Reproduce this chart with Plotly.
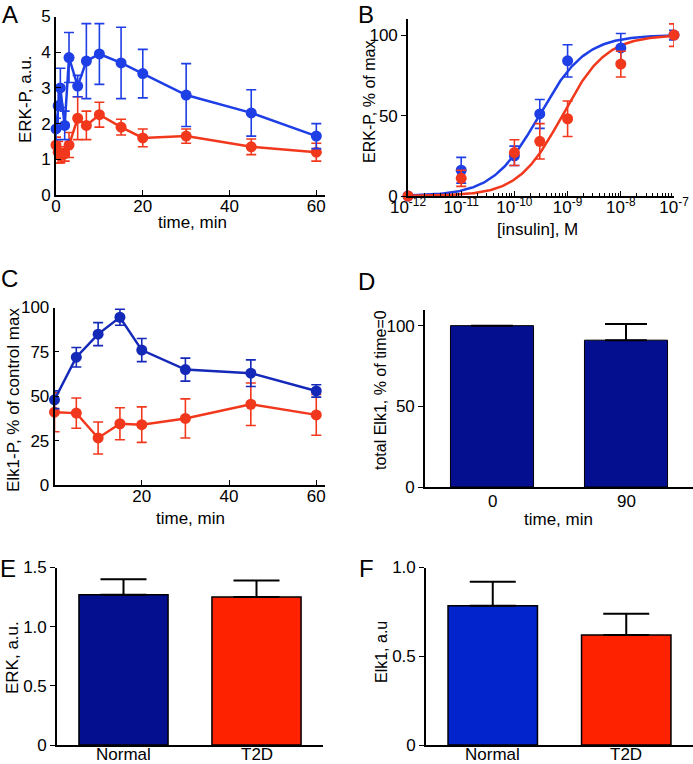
import numpy as np
import plotly.graph_objects as go

W, H = 693, 764

# ---------------- data ----------------
# Panel A: ERK-P time course
a_time = [0, 0.5, 1, 2, 3, 5, 7, 10, 15, 20, 30, 45, 60]
a_blue = [1.85, 2.5, 3.0, 1.95, 3.85, 3.05, 3.75, 3.95, 3.7, 3.4, 2.8, 2.3, 1.65]
a_blue_err = [0.3, 0.5, 0.55, 0.4, 0.7, 0.3, 1.05, 0.85, 1.0, 0.68, 0.88, 0.65, 0.35]
a_red = [1.4, 1.2, 1.1, 1.15, 1.4, 2.15, 1.95, 2.25, 1.9, 1.6, 1.65, 1.35, 1.2]
a_red_err = [0.22, 0.3, 0.2, 0.2, 0.35, 0.6, 0.4, 0.35, 0.22, 0.25, 0.2, 0.22, 0.25]

# Panel B: dose response
b_conc = [1e-12, 1e-11, 1e-10, 3e-10, 1e-9, 1e-8, 1e-7]
b_blue = [0, 16, 25, 51, 84, 92, 100]
b_blue_err = [0, 8, 6, 9, 10, 9, 3]
b_red = [0, 11, 27, 34, 48, 82, 100]
b_red_err = [0, 5, 8, 11, 11, 8, 7]
b_fit_ec50 = [2.9e-10, 7.9e-10]   # blue, red
b_fit_hill = [1.0, 1.05]
b_tick_vals = [1e-12, 1e-11, 1e-10, 1e-9, 1e-8, 1e-7]
b_tick_text = ["10<sup>-12</sup>", "10<sup>-11</sup>", "10<sup>-10</sup>",
               "10<sup>-9</sup>", "10<sup>-8</sup>", "10<sup>-7</sup>"]

# Panel C: Elk1-P time course
c_time = [0, 5, 10, 15, 20, 30, 45, 60]
c_blue = [48, 72, 85, 94.5, 76, 65, 63, 53]
c_blue_err = [5, 5.5, 6.5, 4.5, 6.5, 6.5, 7.5, 3.5]
c_red = [41, 40.5, 26.5, 34.5, 34, 37.5, 45.5, 39.5]
c_red_err = [11, 8.5, 9, 9, 10, 11, 12, 11.5]

# Panel D: total Elk1
d_cat = ["0", "90"]
d_val = [100, 91]
d_err = [0, 10]

# Panel E: ERK
e_cat = ["Normal", "T2D"]
e_val = [1.27, 1.25]
e_err = [0.13, 0.14]

# Panel F: Elk1
f_cat = ["Normal", "T2D"]
f_val = [0.785, 0.62]
f_err = [0.135, 0.12]

# ---------------- style ----------------
FONT = "Liberation Sans, Arial, sans-serif"
BLUE = "#1e3ee6"
BLUE_C = "#1529b8"
RED = "#f2381c"
NAVY = "#030f8f"
BLUE_F = "#0224cc"
RED_BAR = "#ff2200"
TICK = 17


def px2x(p):
    return p / W


def px2y(p):
    return 1 - p / H


fig = go.Figure()


def axis_common(**kw):
    d = dict(showline=True, linecolor="black", linewidth=1.6, showgrid=False,
             zeroline=False, ticks="inside", ticklen=5, tickwidth=1.4,
             tickcolor="black", automargin=False,
             tickfont=dict(family=FONT, size=TICK, color="black"))
    d.update(kw)
    return d


def line_trace(x, y, err, color, xa, ya):
    return go.Scatter(x=x, y=y, mode="lines+markers", xaxis=xa, yaxis=ya,
                      line=dict(color=color, width=2.5),
                      marker=dict(color=color, size=11),
                      error_y=dict(type="data", array=err, color=color,
                                   thickness=1.6, width=5),
                      showlegend=False, cliponaxis=False)


# Panel A
fig.add_trace(line_trace(a_time, a_red, a_red_err, RED, "x", "y"))
fig.add_trace(line_trace(a_time, a_blue, a_blue_err, BLUE, "x", "y"))

# Panel B
xs = np.logspace(-12, -7, 200)
for ec50, hill, col in zip(b_fit_ec50, b_fit_hill, [BLUE, RED]):
    r = (xs / ec50) ** hill
    fig.add_trace(go.Scatter(x=xs, y=100 * r / (1 + r), mode="lines",
                             xaxis="x2", yaxis="y2",
                             line=dict(color=col, width=2.5), showlegend=False))
fig.add_trace(go.Scatter(x=b_conc, y=b_blue, mode="markers", xaxis="x2", yaxis="y2",
                         marker=dict(color=BLUE, size=11),
                         error_y=dict(type="data", array=b_blue_err, color=BLUE,
                                      thickness=1.6, width=5),
                         showlegend=False, cliponaxis=False))
fig.add_trace(go.Scatter(x=b_conc, y=b_red, mode="markers", xaxis="x2", yaxis="y2",
                         marker=dict(color=RED, size=11),
                         error_y=dict(type="data", array=b_red_err, color=RED,
                                      thickness=1.6, width=5),
                         showlegend=False, cliponaxis=False))

# Panel C
fig.add_trace(line_trace(c_time, c_red, c_red_err, RED, "x3", "y3"))
fig.add_trace(line_trace(c_time, c_blue, c_blue_err, BLUE_C, "x3", "y3"))

# Panel D
fig.add_trace(go.Bar(x=d_cat, y=d_val, xaxis="x4", yaxis="y4", width=0.62,
                     marker=dict(color=NAVY, line=dict(color="black", width=1)),
                     error_y=dict(type="data", array=d_err, arrayminus=[0, 0],
                                  symmetric=False, color="black", thickness=2, width=21),
                     showlegend=False))

# Panel E
fig.add_trace(go.Bar(x=e_cat, y=e_val, xaxis="x5", yaxis="y5", width=0.67,
                     marker=dict(color=[NAVY, RED_BAR], line=dict(color="black", width=1.5)),
                     error_y=dict(type="data", array=e_err, arrayminus=[0, 0],
                                  symmetric=False, color="black", thickness=2, width=23),
                     showlegend=False))

# Panel F
fig.add_trace(go.Bar(x=f_cat, y=f_val, xaxis="x6", yaxis="y6", width=0.67,
                     marker=dict(color=[BLUE_F, RED_BAR], line=dict(color="black", width=1.5)),
                     error_y=dict(type="data", array=f_err, arrayminus=[0, 0],
                                  symmetric=False, color="black", thickness=2, width=23),
                     showlegend=False))

layout = dict(
    template="none",
    width=W, height=H, margin=dict(l=0, r=0, t=0, b=0, pad=0),
    paper_bgcolor="white", plot_bgcolor="white", showlegend=False,
    font=dict(family=FONT, size=16, color="black"),
    # A
    xaxis=axis_common(domain=[px2x(56), px2x(325)], range=[0, 62], anchor="y",
                      tickvals=[0, 20, 40, 60], ticklabelstandoff=-5),
    yaxis=axis_common(domain=[px2y(195), px2y(16.5)], range=[0, 5], anchor="x",
                      tickvals=[0, 1, 2, 3, 4, 5]),
    # B
    xaxis2=axis_common(type="log", domain=[px2x(408), px2x(674)], range=[-12, -7],
                       anchor="y2", tickvals=b_tick_vals, ticktext=b_tick_text,
                       ticklabelstandoff=-5,
                       minor=dict(ticks="inside", ticklen=3, tickcolor="black",
                                  tickwidth=1.2, dtick="D1", showgrid=False)),
    yaxis2=axis_common(domain=[px2y(196), px2y(19)], range=[0, 110], anchor="x2",
                       tickvals=[0, 50, 100], ticks="outside"),
    # C
    xaxis3=axis_common(domain=[px2x(54.5), px2x(325)], range=[0, 62], anchor="y3",
                       tickvals=[20, 40, 60], ticklabelstandoff=-5),
    yaxis3=axis_common(domain=[px2y(485), px2y(307.5)], range=[0, 100], anchor="x3",
                       tickvals=[0, 25, 50, 75, 100]),
    # D
    xaxis4=axis_common(domain=[px2x(425), 1.0], range=[-0.5, 1.5], anchor="y4",
                       type="category", ticks="", showticklabels=False),
    yaxis4=axis_common(domain=[px2y(487), px2y(309.5)], range=[0, 110], anchor="x4",
                       tickvals=[0, 50, 100], ticks="outside"),
    # E
    xaxis5=axis_common(domain=[px2x(57), px2x(323)], range=[-0.5, 1.5], anchor="y5",
                       type="category", ticks="", showticklabels=False),
    yaxis5=axis_common(domain=[px2y(745), px2y(567.5)], range=[0, 1.5], anchor="x5",
                       tickvals=[0, 0.5, 1.0, 1.5], ticktext=["0", "0.5", "1.0", "1.5"],
                       ticks="outside"),
    # F
    xaxis6=axis_common(domain=[px2x(426), 1.0], range=[-0.5, 1.5], anchor="y6",
                       type="category", ticks="", showticklabels=False),
    yaxis6=axis_common(domain=[px2y(745), px2y(567.5)], range=[0, 1.0], anchor="x6",
                       tickvals=[0, 0.5, 1.0], ticktext=["0", "0.5", "1.0"],
                       ticks="outside"),
)
fig.update_layout(**layout)

annots = []


def txt(x, y, s, size=16, angle=0, xref="paper"):
    xv = px2x(x) if xref == "paper" else x
    annots.append(dict(x=xv, y=px2y(y), xref=xref, yref="paper", text=s,
                       showarrow=False, textangle=angle, xanchor="center",
                       yanchor="middle", font=dict(family=FONT, size=size, color="black")))


# panel letters
for letter, x, y in [("A", 10, 14), ("B", 366, 14), ("C", 9, 278), ("D", 366, 281),
                     ("E", 8, 568), ("F", 366, 568)]:
    txt(x, y, letter, size=24)

# axis titles
txt(25, 99, "ERK-P, a.u.", size=17, angle=-90)
txt(192, 222, "time, min", size=17)
txt(370, 102, "ERK-P, % of max", size=16, angle=-90)
txt(537, 229, "[insulin], M", size=17)
txt(13, 400, "Elk1-P, % of control max", size=17, angle=-90)
txt(190, 518, "time, min", size=17)
txt(380, 390, "total Elk1, % of time=0", size=16, angle=-90)
txt(558, 519, "time, min", size=17)
txt(12, 658, "ERK, a.u.", size=17, angle=-90)
txt(381, 652, "Elk1, a.u", size=16, angle=-90)

# category labels, placed at the category positions of each axis
for i, cat in enumerate(d_cat):
    txt(i, 501, cat, size=TICK, xref="x4")
for i, cat in enumerate(e_cat):
    txt(i, 754, cat, size=TICK, xref="x5")
for i, cat in enumerate(f_cat):
    txt(i, 754, cat, size=TICK, xref="x6")

fig.update_layout(annotations=annots)
fig.write_html("out.html", config={"displayModeBar": False},
               post_script="document.body.style.margin='0';document.body.style.overflow='hidden';")
